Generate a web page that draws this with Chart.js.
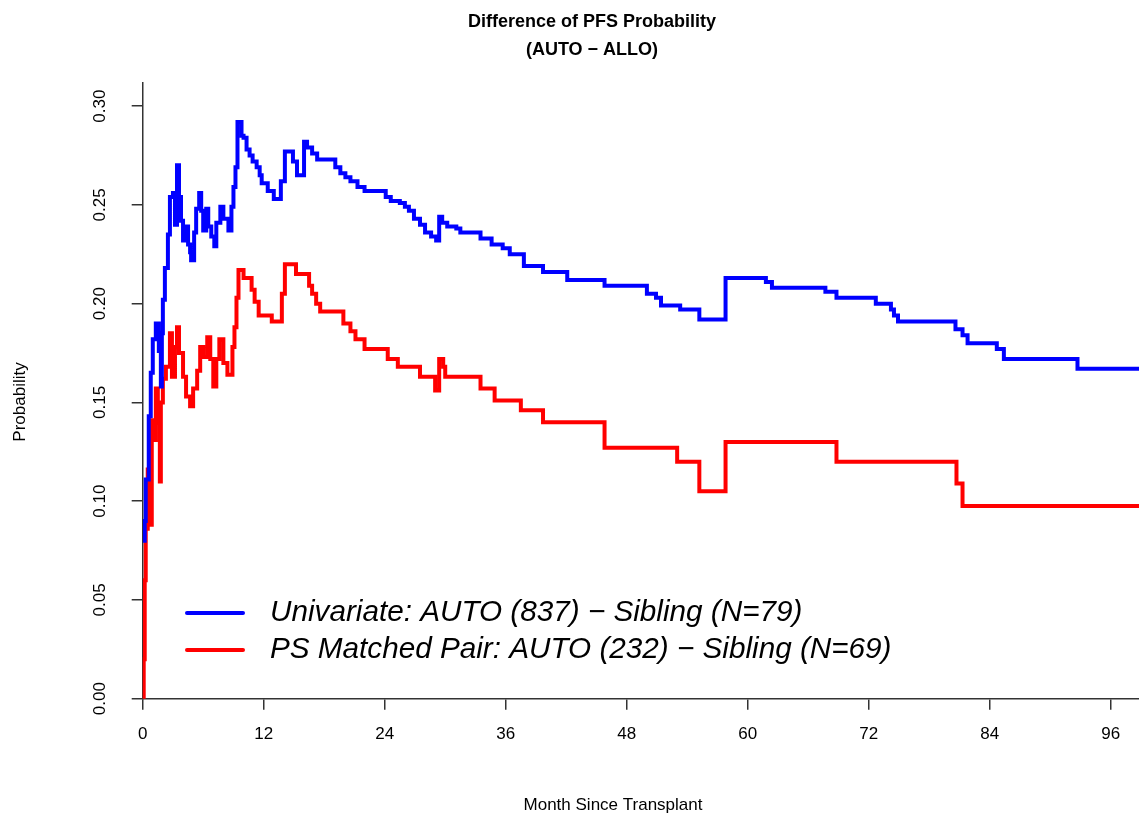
<!DOCTYPE html>
<html>
<head>
<meta charset="utf-8">
<title>Difference of PFS Probability</title>
<script src="https://cdn.jsdelivr.net/npm/chart.js@4.4.1/dist/chart.umd.min.js"></script>
<style>
  html, body { margin: 0; padding: 0; background: #fff; }
  canvas { display: block; }
</style>
</head>
<body>
<canvas id="pfs-diff-chart" width="1139" height="816"></canvas>
<script>
// step-function estimates
const monthsUni = [0, 0.2, 0.3, 0.6, 0.8, 1.0, 1.3, 1.6, 1.8, 1.9, 2.0, 2.2, 2.5, 2.7, 3.0, 3.2, 3.4, 3.6, 3.8, 4.0,
  4.3, 4.5, 4.7, 4.8, 5.1, 5.3, 5.6, 5.8, 6.0, 6.3, 6.5, 6.8, 7.1, 7.3, 7.7, 8.0, 8.5, 8.8, 9.0, 9.2,
  9.4, 9.8, 10.0, 10.3, 10.6, 10.9, 11.3, 11.6, 11.8, 12.4, 13.0, 13.7, 14.1, 14.9, 15.3, 16.0, 16.3, 16.8, 17.3, 19.1,
  19.6, 20.1, 20.6, 21.3, 22.0, 24.1, 24.6, 25.5, 26.0, 26.4, 26.9, 27.5, 28.0, 28.6, 29.1, 29.4, 29.7, 30.2, 31.1, 31.5,
  33.5, 34.6, 35.7, 36.4, 37.8, 39.7, 42.1, 45.8, 50.0, 50.9, 51.4, 53.3, 55.2, 57.8, 61.8, 62.4, 67.7, 68.8, 72.7, 74.2,
  74.5, 74.9, 80.6, 81.3, 81.8, 84.7, 85.4, 92.7, 98.8];
const probUni = [0.080, 0.090, 0.111, 0.143, 0.165, 0.182, 0.190, 0.176, 0.158, 0.185, 0.202, 0.218, 0.235, 0.254, 0.256, 0.240, 0.270, 0.254, 0.242, 0.232,
  0.239, 0.230, 0.226, 0.222, 0.236, 0.248, 0.256, 0.247, 0.237, 0.248, 0.239, 0.234, 0.229, 0.241, 0.249, 0.243, 0.237, 0.249, 0.259, 0.269,
  0.292, 0.285, 0.284, 0.278, 0.275, 0.272, 0.269, 0.265, 0.261, 0.257, 0.253, 0.262, 0.277, 0.272, 0.265, 0.282, 0.279, 0.276, 0.273, 0.269,
  0.266, 0.264, 0.262, 0.259, 0.257, 0.254, 0.252, 0.251, 0.249, 0.247, 0.243, 0.240, 0.236, 0.234, 0.232, 0.244, 0.241, 0.239, 0.238, 0.236,
  0.233, 0.230, 0.228, 0.225, 0.219, 0.216, 0.212, 0.209, 0.205, 0.203, 0.199, 0.197, 0.192, 0.213, 0.211, 0.208, 0.206, 0.203, 0.200, 0.197,
  0.194, 0.191, 0.187, 0.184, 0.180, 0.177, 0.172, 0.167, 0.167];

const monthsPS = [0, 0.1, 0.2, 0.3, 0.5, 0.7, 0.9, 1.1, 1.3, 1.5, 1.7, 1.8, 2.0, 2.3, 2.7, 2.9, 3.2, 3.4, 3.6, 4.0,
  4.3, 4.7, 5.0, 5.4, 5.7, 6.0, 6.4, 6.7, 7.0, 7.3, 7.6, 8.0, 8.4, 8.9, 9.1, 9.3, 9.5, 10.0, 10.8, 11.1,
  11.5, 12.8, 13.8, 14.1, 15.2, 16.5, 16.8, 17.2, 17.6, 19.9, 20.6, 21.1, 22.0, 24.3, 25.3, 27.5, 29.0, 29.4, 29.8, 30.0,
  33.5, 34.9, 37.5, 39.7, 45.8, 53.0, 55.2, 57.8, 68.8, 80.7, 81.3, 98.8];
const probPS = [0.000, 0.020, 0.060, 0.086, 0.116, 0.088, 0.141, 0.131, 0.157, 0.140, 0.110, 0.150, 0.162, 0.168, 0.185, 0.163, 0.178, 0.188, 0.175, 0.163,
  0.153, 0.148, 0.157, 0.166, 0.178, 0.173, 0.183, 0.172, 0.158, 0.172, 0.182, 0.170, 0.164, 0.178, 0.188, 0.203, 0.217, 0.213, 0.207, 0.201,
  0.194, 0.191, 0.205, 0.220, 0.215, 0.209, 0.205, 0.200, 0.196, 0.190, 0.186, 0.182, 0.177, 0.172, 0.168, 0.163, 0.156, 0.172, 0.168, 0.163,
  0.157, 0.151, 0.146, 0.140, 0.127, 0.120, 0.105, 0.130, 0.120, 0.109, 0.0975, 0.0975];

const seriesNames = ['Univariate: AUTO (837) \u2212 Sibling (N=79)', 'PS Matched Pair: AUTO (232) \u2212 Sibling (N=69)'];
const seriesColors = ['#0000FF', '#FF0000'];
const xTickStep = 12;
const yTickStep = 0.05;

const FONT = '"Liberation Sans", Arial, Helvetica, sans-serif';

function toPoints(xs, ys) {
  return xs.map((x, i) => ({ x: x, y: ys[i] }));
}

// R-style extras: titles, rotated y tick labels, in-plot legend
const rDecor = {
  id: 'rDecor',
  afterDraw(chart) {
    const ctx = chart.ctx;
    const yScale = chart.scales.y;
    ctx.save();
    ctx.fillStyle = '#000';
    ctx.textAlign = 'center';
    ctx.textBaseline = 'middle';

    ctx.font = 'bold 18px ' + FONT;
    ctx.fillText('Difference of PFS Probability', 592, 22);
    ctx.fillText('(AUTO \u2212 ALLO)', 592, 50);

    ctx.font = '17px ' + FONT;
    ctx.fillText('Month Since Transplant', 613, 805);

    yScale.ticks.forEach(t => {
      const py = yScale.getPixelForValue(t.value);
      ctx.save();
      ctx.translate(100, py);
      ctx.rotate(-Math.PI / 2);
      ctx.fillText(t.value.toFixed(2), 0, 0);
      ctx.restore();
    });

    ctx.save();
    ctx.translate(20, 402);
    ctx.rotate(-Math.PI / 2);
    ctx.fillText('Probability', 0, 0);
    ctx.restore();

    // legend
    ctx.textAlign = 'left';
    ctx.font = 'italic 29.7px ' + FONT;
    ctx.lineWidth = 4;
    ctx.lineCap = 'round';
    chart.data.datasets.forEach((ds, i) => {
      const ly = 613 + i * 37;
      ctx.strokeStyle = ds.borderColor;
      ctx.beginPath();
      ctx.moveTo(187, ly);
      ctx.lineTo(243, ly);
      ctx.stroke();
      ctx.fillText(ds.label, 270, ly);
    });
    ctx.restore();
  }
};

const ctx = document.getElementById('pfs-diff-chart');

new Chart(ctx, {
  type: 'line',
  data: {
    datasets: [{
      label: seriesNames[0],
      data: toPoints(monthsUni, probUni),
      borderColor: seriesColors[0],
      borderWidth: 4,
      stepped: true,
      pointRadius: 0,
      fill: false
    }, {
      label: seriesNames[1],
      data: toPoints(monthsPS, probPS),
      borderColor: seriesColors[1],
      borderWidth: 4,
      stepped: true,
      pointRadius: 0,
      fill: false
    }]
  },
  options: {
    responsive: false,
    animation: false,
    layout: { padding: { top: 83, left: 0, right: 0, bottom: 0 } },
    plugins: {
      legend: { display: false },
      title: { display: false },
      tooltip: { enabled: false }
    },
    scales: {
      x: {
        type: 'linear',
        min: 0,
        max: 98.8,
        afterFit: (scale) => { scale.height = 117.3; },
        ticks: {
          stepSize: xTickStep,
          includeBounds: false,
          color: '#000',
          padding: 14,
          font: { family: FONT, size: 17 }
        },
        grid: { drawOnChartArea: false, tickLength: 11, color: '#333', lineWidth: 1.5 },
        border: { color: '#333', width: 1.5 }
      },
      y: {
        min: 0,
        max: 0.3117,
        afterFit: (scale) => { scale.width = 142.7; },
        ticks: {
          stepSize: yTickStep,
          includeBounds: false,
          display: false
        },
        grid: { drawOnChartArea: false, tickLength: 11, color: '#333', lineWidth: 1.5 },
        border: { color: '#333', width: 1.5 }
      }
    }
  },
  plugins: [rDecor]
});
</script>
</body>
</html>
